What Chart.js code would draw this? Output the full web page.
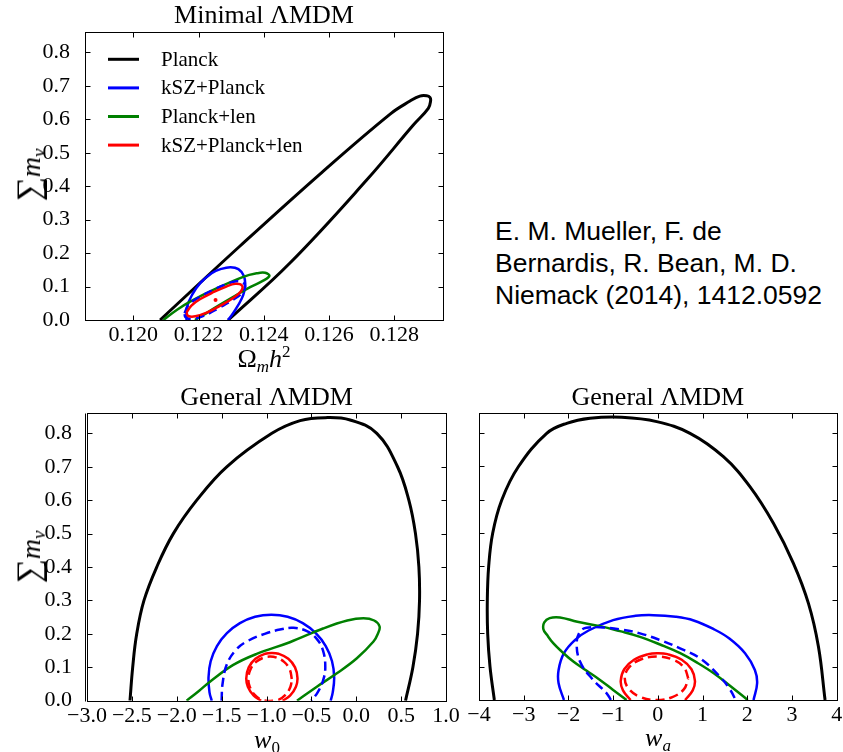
<!DOCTYPE html>
<html><head><meta charset="utf-8">
<script src="https://cdn.jsdelivr.net/npm/chart.js@4"></script>
<style>
html,body{margin:0;padding:0;background:#fff;width:843px;height:752px;overflow:hidden}
body{position:relative}
canvas{position:absolute}
.lab{position:absolute;font-family:'Liberation Serif','DejaVu Serif',serif;color:#000;white-space:nowrap;line-height:1}
.cite{position:absolute;left:495px;top:215px;font-family:'Liberation Sans',Arial,sans-serif;font-size:26.5px;line-height:32px;color:#000;white-space:nowrap}
</style></head><body>
<canvas id="c1" width="470" height="375" style="left:0px;top:0px"></canvas>
<canvas id="c2" width="470" height="377" style="left:0px;top:375px"></canvas>
<canvas id="c3" width="400" height="377" style="left:455px;top:375px"></canvas>

<div class="lab" style="left:264px;top:359px;transform:translate(-50%,-50%);font-size:26px">Ω<span style="font-size:17px;font-style:italic;position:relative;top:5px">m</span><i>h</i><span style="font-size:17px;position:relative;top:-10px">2</span></div>
<div class="lab" style="left:29px;top:175px;transform:translate(-50%,-50%) rotate(-90deg)"><span style="font-size:34px">∑</span><i style="font-size:28px">m</i><span style="font-size:19px;font-style:italic;position:relative;top:5px">ν</span></div>
<div class="lab" style="left:29px;top:557px;transform:translate(-50%,-50%) rotate(-90deg)"><span style="font-size:34px">∑</span><i style="font-size:28px">m</i><span style="font-size:19px;font-style:italic;position:relative;top:5px">ν</span></div>
<div class="lab" style="left:267px;top:740px;transform:translate(-50%,-50%);font-size:26px"><i>w</i><span style="font-size:17px;position:relative;top:5px">0</span></div>
<div class="lab" style="left:658px;top:738px;transform:translate(-50%,-50%);font-size:26px"><i>w</i><span style="font-size:17px;font-style:italic;position:relative;top:5px">a</span></div>
<div class="cite">E. M. Mueller, F. de<br>Bernardis, R. Bean, M. D.<br>Niemack (2014), 1412.0592</div>

<script>
// ---------- data ----------
const panelTitles = ['Minimal ΛMDM', 'General ΛMDM', 'General ΛMDM'];
const seriesLabels = ['Planck', 'kSZ+Planck', 'Planck+len', 'kSZ+Planck+len'];

const yTickValues = [0, 0.1, 0.2, 0.3, 0.4, 0.5, 0.6, 0.7, 0.8];
const yTickLabels = ['0.0', '0.1', '0.2', '0.3', '0.4', '0.5', '0.6', '0.7', '0.8'];
const omegaTickValues = [0.120, 0.122, 0.124, 0.126, 0.128];
const omegaTickLabels = ['0.120', '0.122', '0.124', '0.126', '0.128'];
const w0TickValues = [-3, -2.5, -2, -1.5, -1, -0.5, 0, 0.5, 1];
const w0TickLabels = ['−3.0', '−2.5', '−2.0', '−1.5', '−1.0', '−0.5', '0.0', '0.5', '1.0'];
const waTickValues = [-4, -3, -2, -1, 0, 1, 2, 3, 4];
const waTickLabels = ['−4', '−3', '−2', '−1', '0', '1', '2', '3', '4'];

// Minimal ΛMDM : (Ω_m h^2, Σm_ν)
const minPlanck = [[0.12082,0],[0.12327,0.2212],[0.12572,0.4364],[0.12787,0.6157],[0.12848,0.6545],[0.12878,0.6694],[0.12899,0.6703],[0.12909,0.6656],[0.12911,0.6554],[0.12904,0.6327],[0.12858,0.5828],[0.12715,0.4184],[0.12480,0.1704],[0.12291,0]];
const minKszPlanck = [[0.12163,0],[0.12165,0.040],[0.12180,0.075],[0.12205,0.110],[0.12240,0.140],[0.12270,0.153],[0.12298,0.158],[0.12322,0.152],[0.12338,0.133],[0.12343,0.108],[0.12337,0.075],[0.12320,0.042],[0.12302,0.015],[0.12290,0]];
const minPlanckLen = [[0.12092,0],[0.12133,0.030],[0.12174,0.055],[0.12250,0.092],[0.12337,0.129],[0.12378,0.1395],[0.12404,0.141],[0.12417,0.132],[0.12398,0.1175],[0.12358,0.098],[0.12317,0.075],[0.12256,0.040],[0.12215,0.015],[0.12189,0]];
const minKszPlanckDashed = [[0.12157,0.020],[0.12170,0.046],[0.12204,0.069],[0.12245,0.090],[0.12288,0.108],[0.12318,0.116],[0.12341,0.107],[0.12337,0.085],[0.12305,0.060],[0.12262,0.036],[0.12220,0.014],[0.12180,0.003],[0.12160,0.008],[0.12157,0.020]];
const minKszPlanckLen = [[0.12163,0.022],[0.12178,0.043],[0.12204,0.062],[0.12245,0.083],[0.12285,0.100],[0.12312,0.108],[0.12333,0.103],[0.12330,0.086],[0.12305,0.065],[0.12265,0.042],[0.12225,0.022],[0.12190,0.011],[0.12168,0.012],[0.12163,0.022]];
const minKszPlanckLenDashed = [[0.12252,0.060]];

// General ΛMDM : (w0, Σm_ν)
const w0Planck = [[-2.521,0],[-2.491,0.1],[-2.446,0.2],[-2.365,0.3],[-2.223,0.4],[-2.038,0.5],[-1.777,0.6],[-1.443,0.7],[-0.940,0.8],[-0.625,0.838],[-0.347,0.847],[-0.068,0.840],[0.229,0.8],[0.460,0.7],[0.586,0.6],[0.660,0.5],[0.698,0.4],[0.705,0.3],[0.683,0.2],[0.631,0.1],[0.549,0]];
const w0KszPlanck = [[-1.61,0],[-1.635,0.025],[-1.646,0.07],[-1.622,0.118],[-1.552,0.1635],[-1.441,0.202],[-1.296,0.232],[-1.127,0.251],[-0.946,0.257],[-0.765,0.251],[-0.596,0.232],[-0.451,0.202],[-0.340,0.1635],[-0.270,0.118],[-0.246,0.07],[-0.262,0.025],[-0.285,0]];
const w0PlanckLen = [[-1.89,0],[-1.75,0.03],[-1.63,0.057],[-1.37,0.107],[-1.11,0.140],[-0.74,0.175],[-0.37,0.216],[-0.10,0.240],[0.08,0.247],[0.20,0.240],[0.26,0.222],[0.24,0.200],[0.192,0.177],[0.007,0.127],[-0.216,0.082],[-0.439,0.042],[-0.66,0]];
const w0KszPlanckDashed = [[-1.50,0],[-1.49,0.05],[-1.44,0.11],[-1.33,0.155],[-1.20,0.18],[-1.02,0.20],[-0.85,0.213],[-0.70,0.218],[-0.55,0.208],[-0.44,0.185],[-0.37,0.15],[-0.345,0.10],[-0.37,0.06],[-0.43,0.025],[-0.50,0]];
const w0KszPlanckLen = [[-1.06,0],[-1.142,0.015],[-1.208,0.042],[-1.225,0.068],[-1.198,0.0997],[-1.123,0.1255],[-1.014,0.1404],[-0.94,0.143],[-0.866,0.1404],[-0.757,0.1255],[-0.682,0.0997],[-0.655,0.068],[-0.672,0.042],[-0.738,0.015],[-0.82,0]];
const w0KszPlanckLenDashed = [[-0.718,0.065],[-0.741,0.0933],[-0.804,0.1163],[-0.897,0.1297],[-0.96,0.132],[-1.023,0.1297],[-1.116,0.1163],[-1.179,0.0933],[-1.202,0.065],[-1.187,0.042],[-1.131,0.0176],[-1.043,0.002],[-0.877,0.002],[-0.789,0.0176],[-0.733,0.042],[-0.718,0.065]];

// General ΛMDM : (wa, Σm_ν)
const waPlanck = [[-3.657,0],[-3.754,0.0997],[-3.806,0.199],[-3.814,0.299],[-3.784,0.399],[-3.694,0.499],[-3.493,0.598],[-3.120,0.698],[-2.486,0.798],[-2.039,0.828],[-1.517,0.843],[-0.808,0.846],[-0.025,0.833],[0.720,0.798],[1.466,0.728],[2.063,0.638],[2.585,0.529],[3.032,0.409],[3.368,0.289],[3.591,0.160],[3.740,0]];
const waKszPlanck = [[-2.10,0],[-2.22,0.05],[-2.22,0.09],[-2.10,0.14],[-1.85,0.18],[-1.55,0.208],[-1.00,0.239],[-0.50,0.252],[-0.10,0.254],[0.40,0.249],[0.80,0.238],[1.25,0.212],[1.60,0.184],[1.95,0.140],[2.17,0.09],[2.22,0.05],[2.14,0]];
const waPlanckLen = [[-0.70,0],[-1.00,0.03],[-1.294,0.06],[-1.60,0.088],[-1.89,0.115],[-2.15,0.145],[-2.34,0.170],[-2.48,0.195],[-2.56,0.212],[-2.54,0.232],[-2.42,0.245],[-2.19,0.247],[-1.80,0.234],[-1.294,0.221],[-0.85,0.206],[-0.40,0.189],[0.05,0.166],[0.50,0.140],[0.90,0.110],[1.25,0.080],[1.62,0.042],[2.01,0]];
const waKszPlanckDashed = [[-1.05,0],[-1.145,0.020],[-1.48,0.065],[-1.741,0.115],[-1.815,0.170],[-1.74,0.205],[-1.60,0.216],[-1.294,0.2175],[-0.846,0.2115],[-0.399,0.1995],[0.048,0.1795],[0.496,0.1546],[0.943,0.1247],[1.39,0.0697],[1.62,0.030],[1.74,0]];
const waKszPlanckLen = [[-0.61,0],[-0.78,0.0286],[-0.83,0.057],[-0.752,0.092],[-0.534,0.1206],[-0.215,0.1372],[0,0.140],[0.215,0.1372],[0.534,0.1206],[0.752,0.092],[0.83,0.057],[0.78,0.0286],[0.61,0]];
const waKszPlanckLenDashed = [[0.68,0.065],[0.585,0.0975],[0.325,0.1213],[-0.03,0.130],[-0.385,0.1213],[-0.645,0.0975],[-0.74,0.065],[-0.645,0.0325],[-0.385,0.0087],[-0.03,0.0],[0.325,0.0087],[0.585,0.0325],[0.68,0.065]];

// ---------- styling ----------
const SERIF = "'Liberation Serif', 'DejaVu Serif', serif";
const COL = { black: '#000000', blue: '#0000ff', green: '#008000', red: '#ff0000' };

function contour(label, pts, color, width, dashed, order, inLegend) {
  return {
    label, inLegend: !!inLegend,
    data: pts.map(p => ({ x: p[0], y: p[1] })),
    borderColor: color, backgroundColor: color, borderWidth: width,
    borderDash: dashed ? [9, 5] : [],
    showLine: true, fill: false, tension: 0.4,
    pointRadius: pts.length === 1 ? 2 : 0, pointBorderWidth: 0, pointHoverRadius: 0,
    clip: 0, order
  };
}
function panelSets(s) {
  return [
    contour(seriesLabels[0], s[0], COL.black, 3, false, 6, true),
    contour(seriesLabels[1], s[1], COL.blue, 2.5, false, 5, true),
    contour(seriesLabels[2], s[2], COL.green, 2.5, false, 4, true),
    contour(seriesLabels[1] + ' (dashed)', s[3], COL.blue, 2.5, true, 3, false),
    contour(seriesLabels[3], s[4], COL.red, 2.5, false, 2, true),
    contour(seriesLabels[3] + ' (dashed)', s[5], COL.red, 2.5, true, 1, false)
  ];
}

const framePlugin = {
  id: 'frame',
  afterDatasetsDraw(chart, args, opts) {
    const { ctx, chartArea: a, scales: { x, y } } = chart;
    ctx.save();
    ctx.setLineDash([]);
    ctx.strokeStyle = '#000';
    ctx.lineWidth = 1;
    const L = Math.round(a.left) + 0.5, R = Math.round(a.right) + 0.5;
    const T = Math.round(a.top) + 0.5, B = Math.round(a.bottom) + 0.5;
    ctx.strokeRect(L, T, R - L, B - T);
    const tl = 5;
    ctx.beginPath();
    if (opts && opts.doubleLeft) { ctx.moveTo(L - 2, T); ctx.lineTo(L - 2, B); }
    x.ticks.forEach(t => {
      const px = Math.round(x.getPixelForValue(t.value)) + 0.5;
      ctx.moveTo(px, B); ctx.lineTo(px, B - tl);
      ctx.moveTo(px, T); ctx.lineTo(px, T + tl);
    });
    y.ticks.forEach(t => {
      const py = Math.round(y.getPixelForValue(t.value)) + 0.5;
      ctx.moveTo(L, py); ctx.lineTo(L + tl, py);
      ctx.moveTo(R, py); ctx.lineTo(R - tl, py);
    });
    ctx.stroke();
    if (opts && opts.legend) {
      ctx.font = '21px ' + SERIF;
      ctx.textBaseline = 'middle';
      ctx.textAlign = 'left';
      ctx.fillStyle = '#000';
      seriesLabels.forEach((lab, i) => {
        const ds = chart.data.datasets.find(d => d.label === lab && d.inLegend);
        const yy = a.top + 27.3 + i * 28.6;
        ctx.strokeStyle = ds.borderColor;
        ctx.lineWidth = 3;
        ctx.beginPath();
        ctx.moveTo(a.left + 23, yy); ctx.lineTo(a.left + 54, yy);
        ctx.stroke();
        ctx.fillText(lab, a.left + 76, yy + 1);
      });
    }
    ctx.restore();
  }
};

function makeChart(id, c) {
  const tickFont = { family: SERIF, size: 22 };
  return new Chart(document.getElementById(id), {
    type: 'scatter',
    data: { datasets: c.datasets },
    options: {
      responsive: false, animation: false, events: [],
      layout: { padding: { left: 0, right: c.padRight, top: 0, bottom: 0 } },
      elements: { line: { capBezierPoints: false } },
      plugins: {
        legend: { display: false },
        tooltip: { enabled: false },
        title: {
          display: true, text: c.title, fullSize: false, color: '#000',
          font: { family: SERIF, size: 26, weight: 'normal', lineHeight: 1.2 },
          padding: { top: c.titleTop, bottom: 0 }
        },
        frame: { legend: !!c.legend, doubleLeft: !!c.doubleLeft }
      },
      scales: {
        x: {
          type: 'linear', min: c.xMin, max: c.xMax,
          grid: { display: false }, border: { display: false },
          afterBuildTicks: s => { s.ticks = c.xTicks.map(v => ({ value: v })); },
          afterFit: s => { s.height = c.xHeight; },
          ticks: { display: true, font: tickFont, color: '#000', padding: -6, maxRotation: 0, autoSkip: false,
                   callback: (v, i) => c.xLabels[i] }
        },
        y: {
          type: 'linear', min: 0, max: c.yMax,
          grid: { display: false }, border: { display: false },
          afterBuildTicks: s => { s.ticks = yTickValues.map(v => ({ value: v })); },
          afterFit: s => { s.width = c.yWidth; },
          ticks: { display: c.yLabels, font: tickFont, color: '#000', padding: 7, autoSkip: false,
                   callback: (v, i) => yTickLabels[i] }
        }
      }
    },
    plugins: [framePlugin]
  });
}

makeChart('c1', {
  title: panelTitles[0], titleTop: 0.8, padRight: 27, xHeight: 55, yWidth: 85, yLabels: true, legend: true,
  xMin: 0.11852, xMax: 0.12949, yMax: 0.861, xTicks: omegaTickValues, xLabels: omegaTickLabels,
  datasets: panelSets([minPlanck, minKszPlanck, minPlanckLen, minKszPlanckDashed, minKszPlanckLen, minKszPlanckLenDashed])
});
makeChart('c2', {
  title: panelTitles[1], titleTop: 7.1, padRight: 24, xHeight: 51.3, yWidth: 87, yLabels: true, legend: false, doubleLeft: true,
  xMin: -3, xMax: 1, yMax: 0.86, xTicks: w0TickValues, xLabels: w0TickLabels,
  datasets: panelSets([w0Planck, w0KszPlanck, w0PlanckLen, w0KszPlanckDashed, w0KszPlanckLen, w0KszPlanckLenDashed])
});
makeChart('c3', {
  title: panelTitles[2], titleTop: 7.1, padRight: 18.3, xHeight: 52, yWidth: 24, yLabels: false, legend: false,
  xMin: -4, xMax: 4, yMax: 0.858, xTicks: waTickValues, xLabels: waTickLabels,
  datasets: panelSets([waPlanck, waKszPlanck, waPlanckLen, waKszPlanckDashed, waKszPlanckLen, waKszPlanckLenDashed])
});
</script>
</body></html>
